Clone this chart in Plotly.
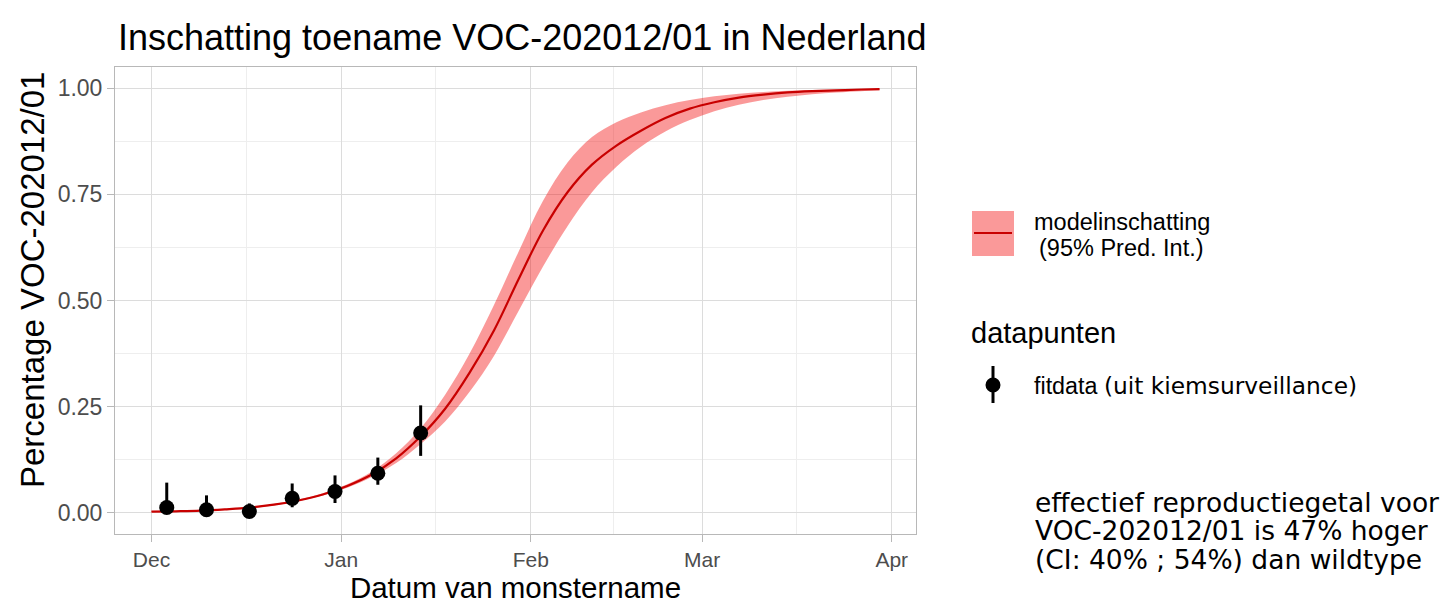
import datetime as dt
import plotly.graph_objects as go

# ---------------- data ----------------
point_dates = ["2020-12-03 12:00", "2020-12-10", "2020-12-17", "2020-12-24",
               "2020-12-31", "2021-01-07", "2021-01-14"]
point_values = [0.0125, 0.007, 0.003, 0.034, 0.050, 0.093, 0.188]
point_upper = [0.071, 0.041, 0.022, 0.069, 0.088, 0.130, 0.253]
point_lower = [0.000, 0.000, 0.000, 0.013, 0.023, 0.066, 0.134]

# model curve, read every 4 days from 1 Dec 2020
curve_start = "2020-12-01"
curve_days = [0, 4, 8, 12, 16, 20, 24, 28, 32, 36, 40, 44, 48, 52, 56, 60,
              64, 68, 72, 76, 80, 84, 88, 92, 96, 100, 104, 108, 112, 116, 119]
curve_mid = [0.0025, 0.0035, 0.005, 0.008, 0.012, 0.019, 0.029, 0.043, 0.063, 0.090,
             0.128, 0.180, 0.245, 0.330, 0.430, 0.550, 0.665, 0.755, 0.820, 0.865,
             0.900, 0.930, 0.952, 0.967, 0.978, 0.985, 0.990, 0.993, 0.995, 0.997, 0.998]
curve_lo = [0.0018, 0.0027, 0.0040, 0.0067, 0.0105, 0.0172, 0.0270, 0.0405, 0.0590, 0.0840,
            0.1170, 0.1620, 0.2150, 0.2850, 0.3700, 0.4750, 0.5800, 0.6750, 0.7550, 0.8150,
            0.8620, 0.8980, 0.9250, 0.9460, 0.9610, 0.9720, 0.9800, 0.9860, 0.9900, 0.9930,
            0.9950]
curve_hi = [0.0033, 0.0045, 0.0062, 0.0094, 0.0136, 0.0209, 0.0311, 0.0457, 0.0670, 0.0965,
            0.1400, 0.1990, 0.2780, 0.3750, 0.4900, 0.6150, 0.7350, 0.8250, 0.8850, 0.9200,
            0.9430, 0.9600, 0.9720, 0.9810, 0.9870, 0.9910, 0.9940, 0.9960, 0.9972, 0.9980,
            0.9985]

x_range = ["2020-11-25 01:00", "2021-04-04 23:00"]
y_ticks = [0.0, 0.25, 0.5, 0.75, 1.0]
y_minor = [0.125, 0.375, 0.625, 0.875]
x_minor = ["2020-12-16 12:00", "2021-01-16 12:00", "2021-02-14 12:00", "2021-03-16 12:00"]

title_text = "Inschatting toename VOC-202012/01 in Nederland"
x_title = "Datum van monstername"
y_title = "Percentage VOC-202012/01"
legend_fit_1 = "modelinschatting"
legend_fit_2 = "(95% Pred. Int.)"
legend_pts_title = "datapunten"
legend_pts_label = "fitdata"
legend_pts_label2 = "(uit kiemsurveillance)"
note_lines = ["effectief reproductiegetal voor",
              "VOC-202012/01 is 47% hoger",
              "(CI: 40% ; 54%) dan wildtype"]

# ---------------- styling ----------------
W, H = 1446, 605
PL, PR, PT, PB = 115, 916, 67, 534   # panel edges in pixels
SANS = "Liberation Sans, Arial, Helvetica, sans-serif"
VERD = "DejaVu Sans, Verdana, sans-serif"
RIBBON = "rgba(242,0,0,0.40)"
LINE = "#C80000"


def px(xp):
    return (xp - PL) / (PR - PL)


def py(yp):
    return (PB - yp) / (PB - PT)


base = dt.datetime.fromisoformat(curve_start)
curve_dates = [base + dt.timedelta(days=d) for d in curve_days]

fig = go.Figure()

fig.add_trace(go.Scatter(x=curve_dates, y=curve_lo, mode="lines",
                         line=dict(width=0, shape="spline", color=RIBBON),
                         hoverinfo="skip", showlegend=False))
fig.add_trace(go.Scatter(x=curve_dates, y=curve_hi, mode="lines", fill="tonexty",
                         fillcolor=RIBBON,
                         line=dict(width=0, shape="spline", color=RIBBON),
                         hoverinfo="skip", showlegend=False))
fig.add_trace(go.Scatter(x=curve_dates, y=curve_mid, mode="lines",
                         line=dict(width=2.2, shape="spline", color=LINE),
                         name="modelinschatting", showlegend=False))

err_plus = [u - v for u, v in zip(point_upper, point_values)]
err_minus = [v - l for v, l in zip(point_values, point_lower)]
fig.add_trace(go.Scatter(x=point_dates, y=point_values, mode="markers",
                         marker=dict(size=15, color="black"),
                         error_y=dict(type="data", array=err_plus, arrayminus=err_minus,
                                      thickness=3, width=0, color="black"),
                         name="fitdata", showlegend=False))

axis_common = dict(
    showline=True, mirror=True, linecolor="#B8B8B8", linewidth=1,
    ticks="outside", ticklen=7, tickwidth=1, tickcolor="#B8B8B8",
    showgrid=True, gridcolor="#DCDCDC", gridwidth=1,
    zeroline=False,
)

fig.update_xaxes(
    type="date", range=x_range, dtick="M1", tick0="2020-12-01", tickformat="%b",
    tickfont=dict(family=SANS, size=21, color="#4D4D4D"),
    title=dict(text=x_title, font=dict(family=SANS, size=29.5, color="black"), standoff=7),
    minor=dict(tickmode="array", tickvals=x_minor, showgrid=True,
               gridcolor="#EEEEEE", gridwidth=0.7, ticks=""),
    **axis_common,
)
fig.update_yaxes(
    range=[-0.05, 1.05], tickmode="array", tickvals=y_ticks, tickformat=".2f",
    tickfont=dict(family=SANS, size=23, color="#4D4D4D"),
    minor=dict(tickmode="array", tickvals=y_minor, showgrid=True,
               gridcolor="#EEEEEE", gridwidth=0.7, ticks=""),
    **axis_common,
)

shapes = [
    # legend key: ribbon with line
    dict(type="rect", xref="paper", yref="paper", x0=px(972), x1=px(1014),
         y0=py(256), y1=py(211), fillcolor=RIBBON, line=dict(width=0)),
    dict(type="line", xref="paper", yref="paper", x0=px(974), x1=px(1012),
         y0=py(233), y1=py(233), line=dict(color=LINE, width=2.2)),
    # legend key: point with error bar
    dict(type="line", xref="paper", yref="paper", x0=px(993), x1=px(993),
         y0=py(403), y1=py(366), line=dict(color="black", width=3)),
    dict(type="circle", xref="paper", yref="paper", x0=px(985.5), x1=px(1000.5),
         y0=py(392.5), y1=py(377.5), fillcolor="black", line=dict(width=0)),
]

annotations = [
    dict(text=y_title, x=px(32), y=py(280), xref="paper", yref="paper",
         xanchor="center", yanchor="middle", textangle=-90, showarrow=False,
         font=dict(family=SANS, size=33, color="black")),
    dict(text=legend_fit_1, x=px(1032), y=py(222), xref="paper", yref="paper",
         xanchor="left", yanchor="middle", showarrow=False,
         font=dict(family=SANS, size=23.5, color="black")),
    dict(text=legend_fit_2, x=px(1037), y=py(248), xref="paper", yref="paper",
         xanchor="left", yanchor="middle", showarrow=False,
         font=dict(family=SANS, size=23.5, color="black")),
    dict(text=legend_pts_title, x=px(969), y=py(333), xref="paper", yref="paper",
         xanchor="left", yanchor="middle", showarrow=False,
         font=dict(family=SANS, size=29, color="black")),
    dict(text=legend_pts_label + " <span style='font-family:DejaVu Sans, Verdana, sans-serif'>"
         + legend_pts_label2 + "</span>",
         x=px(1032), y=py(385), xref="paper", yref="paper",
         xanchor="left", yanchor="middle", showarrow=False,
         font=dict(family=SANS, size=23.3, color="black")),
]
for line_text, yp in zip(note_lines, [502, 530, 559]):
    annotations.append(dict(text=line_text, x=px(1033), y=py(yp), xref="paper", yref="paper",
                            xanchor="left", yanchor="middle", showarrow=False,
                            font=dict(family=VERD, size=26.5, color="black")))

fig.update_layout(
    width=W, height=H,
    margin=dict(l=PL, r=W - PR, t=PT, b=H - PB, autoexpand=False),
    paper_bgcolor="white", plot_bgcolor="white",
    showlegend=False,
    title=dict(text=title_text, xref="container", yref="container",
               x=118 / W, xanchor="left", y=1 - 37 / H, yanchor="middle",
               font=dict(family=SANS, size=36, color="black")),
    shapes=shapes, annotations=annotations,
)

fig.write_html("out.html", config={"displayModeBar": False},
               post_script="document.body.style.margin='0';document.body.style.overflow='hidden';")
